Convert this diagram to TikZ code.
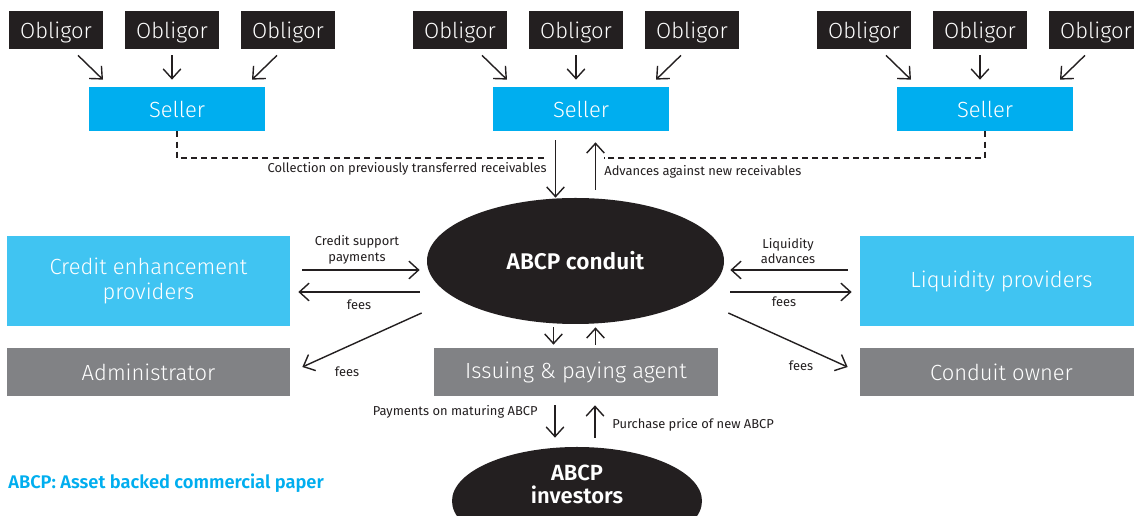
\documentclass[tikz,border=0pt]{standalone}
\usepackage{fontspec}
\setmainfont{Fira Sans}
\newfontfamily\lightf{Fira Sans Light}
\newfontfamily\semif{Fira Sans SemiBold}
\usetikzlibrary{arrows.meta,shapes.geometric,calc}
\definecolor{obl}{HTML}{231F20}
\definecolor{sellc}{HTML}{00AEEF}
\definecolor{lblue}{HTML}{40C4F2}
\definecolor{greyb}{HTML}{818285}
\definecolor{txt}{HTML}{231F20}
\begin{document}
\begin{tikzpicture}[x=0.02cm,y=-0.02cm,
  box/.style={inner sep=0pt, text=white, align=center, font=\lightf\fontsize{12.5}{14.7}\selectfont},
  obligor/.style={box, fill=obl, minimum width=94*0.02cm, minimum height=38*0.02cm, text depth=0pt},
  seller/.style={box, fill=sellc, minimum width=176*0.02cm, minimum height=44*0.02cm},
  bigblue/.style={box, fill=lblue, minimum width=283*0.02cm, minimum height=90*0.02cm},
  greybox/.style={box, fill=greyb, minimum width=283*0.02cm, minimum height=48*0.02cm},
  blob/.style={ellipse, fill=obl, inner sep=0pt, text=white, align=center, font=\semif\fontsize{12.9}{14}\selectfont},
  lbl/.style={inner sep=0pt, text=txt, align=center, font=\fontsize{7.35}{8.8}\selectfont},
  arr/.style={draw=obl, line width=0.8pt, -{Straight Barb[length=5.5pt,width=10pt,line width=0.8pt]}},
  dashln/.style={draw=obl, line width=0.8pt, dash pattern=on 3.4pt off 2.4pt}
]
\useasboundingbox (0,0) rectangle (1134,516);
\fill[white] (0,0) rectangle (1134,516);
\clip (0,0) rectangle (1134,516);

% obligors and sellers
\foreach \g/\dx in {1/0,2/404,3/808}{
  \node[obligor] (o\g1) at (56+\dx,30) {Obligor};
  \node[obligor] (o\g2) at (172+\dx,30) {Obligor};
  \node[obligor] (o\g3) at (288+\dx,30) {Obligor};
  \node[seller] (s\g) at (177+\dx,109) {Seller};
  \draw[arr] ($(o\g1.south)+(22,6)$) -- ($(s\g.north)+(-74,-7)$);
  \draw[arr] ($(o\g2.south)+(0,6)$) -- ($(o\g2.south |- s\g.north)+(0,-7)$);
  \draw[arr] ($(o\g3.south)+(-11,6)$) -- ($(s\g.north)+(75,-7)$);
}

% conduit
\node[blob, minimum width=297*0.02cm, minimum height=126*0.02cm] (conduit) at (575.5,261) {ABCP conduit};

% dashed collection lines
\coordinate (dl) at (547,158);
\coordinate (dr) at (604,158);
\draw[dashln] (s1.south) |- (dl);
\draw[dashln] (s3.south) |- (dr);

% seller <-> conduit
\draw[arr] ($(conduit.north |- s2.south)+(-20,9)$) -- ($(conduit.north)+(-20,0)$);
\draw[arr] ($(conduit.north)+(20,-8)$) -- ($(conduit.north |- s2.south)+(20,11)$);
\node[lbl, anchor=east] (lcoll) at (547,169) {Collection on previously transferred receivables};
\node[lbl, anchor=west] (ladv) at (604,171.5) {Advances against new receivables};

% left side
\node[bigblue] (cep) at (148.5,281) {Credit enhancement\\providers};
\node[greybox] (adm) at (148.5,372) {Administrator};
\draw[arr] ($(cep.east)+(12,-11)$) -- ($(conduit.west)+(-7,9)$);
\draw[arr] ($(conduit.west)+(-7,31)$) -- ($(cep.east)+(8,11)$);
\draw[arr] ($(conduit.west)+(-5,52)$) -- ($(adm.east)+(12,-5)$);
\node[lbl] (lcs) at (357,250) {Credit support\\payments};
\node[lbl] (lf1) at (359,305) {fees};
\node[lbl] (lf2) at (347,372) {fees};

% right side
\node[bigblue] (liq) at (1001.5,281) {Liquidity providers};
\node[greybox] (own) at (1001.5,372) {Conduit owner};
\draw[arr] ($(liq.west)+(-12,-11)$) -- ($(conduit.east)+(6,9)$);
\draw[arr] ($(conduit.east)+(6,31)$) -- ($(liq.west)+(-8,11)$);
\draw[arr] ($(conduit.east)+(4,52)$) -- ($(own.west)+(-12,-5)$);
\node[lbl] (lla) at (788,251) {Liquidity\\advances};
\node[lbl] (lf3) at (784,302) {fees};
\node[lbl] (lf4) at (801,366) {fees};

% issuing & paying agent
\node[greybox, minimum width=284*0.02cm] (agent) at (576,372) {Issuing \& paying agent};
\draw[arr] ($(conduit.south)+(-22,3)$) -- ($(conduit.south |- agent.north)+(-22,-3)$);
\draw[arr] ($(conduit.south |- agent.north)+(20,-3)$) -- ($(conduit.south)+(20,3)$);

% investors
\node[blob, minimum width=250*0.02cm, minimum height=108*0.02cm] (investors) at (577,501) {};
\node[inner sep=0pt, text=white, align=center, font=\semif\fontsize{12.5}{13}\selectfont] (invtext) at (577,484) {ABCP\\investors};
\draw[arr] ($(agent.south)+(-21,9)$) -- ($(investors.north)+(-22,-9)$);
\draw[arr] ($(investors.north)+(18,-9)$) -- ($(agent.south)+(19,9)$);
\node[lbl, anchor=east] (lpay) at (538,412) {Payments on maturing ABCP};
\node[lbl, anchor=west] (lpur) at (612,424.5) {Purchase price of new ABCP};

% legend
\node[anchor=west, inner sep=0pt, text=sellc, font=\semif\fontsize{10.4}{12}\selectfont] (legend) at (8,483) {ABCP: Asset backed commercial paper};
\end{tikzpicture}
\end{document}
